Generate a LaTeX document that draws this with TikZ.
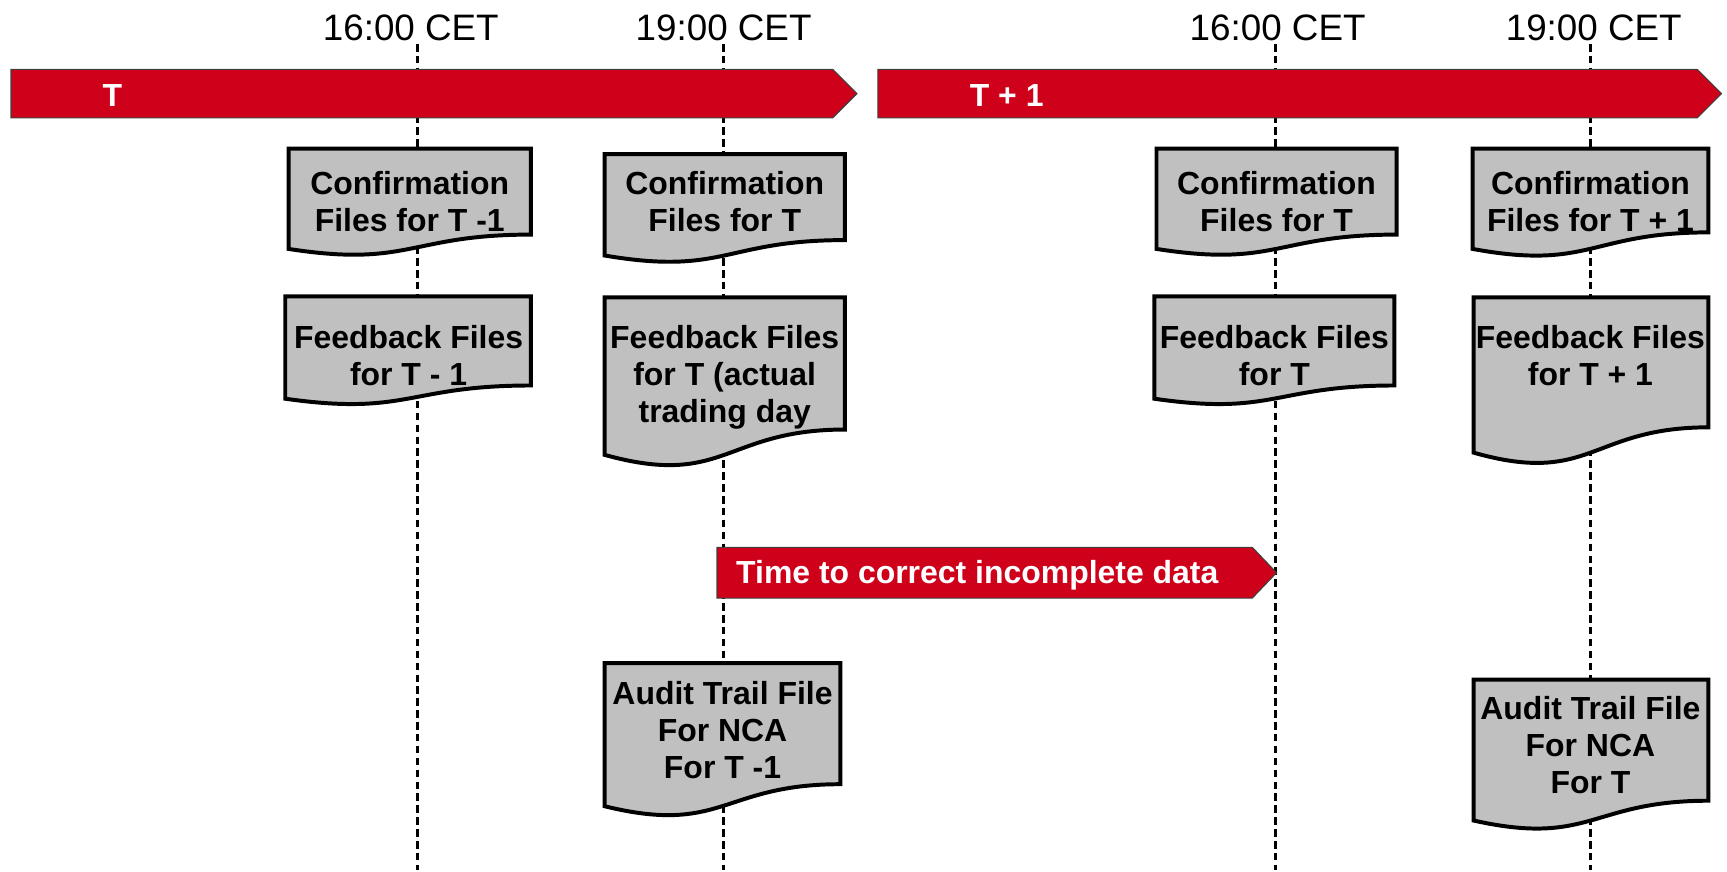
\documentclass[tikz,border=0pt]{standalone}
\usepackage{fontspec}
\setmainfont{Liberation Sans}
\definecolor{tred}{RGB}{206,0,26}
\definecolor{docgray}{RGB}{192,192,192}
\newcommand\docpath[5]{\filldraw[docshape] (#1,#3) -- (#2,#3) -- (#2,#4) .. controls ({(#1+#2)/2},#4) and ({(#1+#2)/2},{#5+1.316*(#5-#4)}) .. (#1,#5) -- cycle;}
\begin{document}
\begin{tikzpicture}[x=0.5pt,y=-0.5pt,
  timeline/.style={line width=1.2pt, dash pattern=on 3.4pt off 2pt},
  docshape/.style={fill=docgray, draw=black, line width=1.8pt, line join=miter},
  redarrow/.style={fill=tred, draw=black!75, line width=0.5pt},
  doctext/.style={font=\bfseries\fontsize{14.5pt}{16.75pt}\selectfont, align=center, anchor=north, inner sep=0pt},
  timelabel/.style={font=\fontsize{16.7pt}{20pt}\selectfont, anchor=base, inner sep=0pt},
  arrowtext/.style={font=\bfseries\fontsize{14.5pt}{16pt}\selectfont, text=white, inner sep=0pt}
]
\useasboundingbox (0,0) rectangle (1568,791);

% time labels
\node[timelabel] (l1) at (373,37) {16:00 CET};
\node[timelabel] (l2) at (657,37) {19:00 CET};
\node[timelabel] (l3) at (1160,37) {16:00 CET};
\node[timelabel] (l4) at (1447,37) {19:00 CET};

% dashed time lines
\coordinate (a1) at (379,40);  \coordinate (b1) at (379,790);
\coordinate (a2) at (657,40);  \coordinate (b2) at (657,790);
\coordinate (a3) at (1158,40); \coordinate (b3) at (1158,790);
\coordinate (a4) at (1444,40); \coordinate (b4) at (1444,790);
\draw[timeline] (a1) -- (b1);
\draw[timeline] (a2) -- (b2);
\draw[timeline] (a3) -- (b3);
\draw[timeline] (a4) -- (b4);

% red arrows
\draw[redarrow] (10,63) -- (756,63) -- (778,85) -- (756,107) -- (10,107) -- cycle;
\draw[redarrow] (797,63) -- (1541,63) -- (1563,85) -- (1541,107) -- (797,107) -- cycle;
\draw[redarrow] (651,497) -- (1137,497) -- (1159,520) -- (1137,543) -- (651,543) -- cycle;
\node[arrowtext, anchor=base] (tT) at (102,97) {T};
\node[arrowtext, anchor=base] (tT1) at (914,97) {T + 1};
\node[arrowtext, anchor=base west] (tcorr) at (668,530) {Time to correct incomplete data};

% document shapes
\docpath{262}{482}{135}{213}{226}
\docpath{549}{767}{140}{218}{232}
\docpath{259}{482}{269}{350}{362}
\docpath{549}{767}{270}{390}{413}
\docpath{1050}{1268}{135}{213}{226}
\docpath{1048}{1266}{269}{350}{362}
\docpath{1337}{1551}{135}{211}{226}
\docpath{1338}{1551}{270}{388}{411}
\docpath{549}{763}{602}{712}{732}
\docpath{1338}{1551}{617}{727}{745}

% document texts
\node[doctext] (c1) at (372,155) {Confirmation\\Files for T -1};
\node[doctext] (c2) at (658,155) {Confirmation\\Files for T};
\node[doctext] (f1) at (371,295) {Feedback Files\\for T - 1};
\node[doctext] (f2) at (658,295) {Feedback Files\\for T (actual\\trading day};
\node[doctext] (c3) at (1159,155) {Confirmation\\Files for T};
\node[doctext] (f3) at (1157,295) {Feedback Files\\for T};
\node[doctext] (c4) at (1444,155) {Confirmation\\Files for T + 1};
\node[doctext] (f4) at (1444,295) {Feedback Files\\for T + 1};
\node[doctext] (au1) at (656,618) {Audit Trail File\\For NCA\\For T -1};
\node[doctext] (au2) at (1444,632) {Audit Trail File\\For NCA\\For T};
\end{tikzpicture}
\end{document}
